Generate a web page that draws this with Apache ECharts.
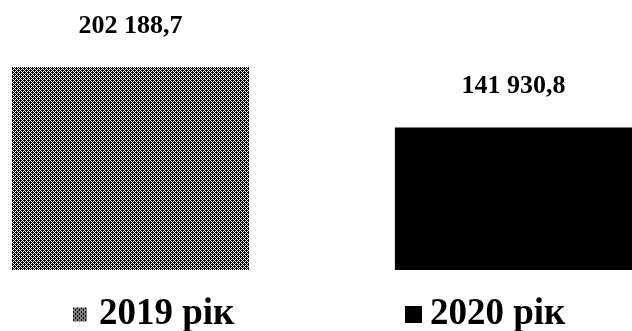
<!DOCTYPE html>
<html>
<head>
<meta charset="utf-8">
<script src="https://cdn.jsdelivr.net/npm/echarts@6/dist/echarts.min.js"></script>
<style>html,body{margin:0;padding:0;background:#fff}#c{width:632px;height:331px}</style>
</head>
<body>
<div id="c"></div>
<script>
var categories = ['2019 рік', '2020 рік'];
var values2019 = [202188.7, '-'];
var values2020 = ['-', 141930.8];

function makePattern() {
  var tile = [
    [1,1,0,1],
    [1,0,1,0],
    [0,1,1,1],
    [1,0,1,0]
  ];
  var c = document.createElement('canvas');
  c.width = 4; c.height = 4;
  var ctx = c.getContext('2d');
  ctx.fillStyle = '#fff'; ctx.fillRect(0,0,4,4);
  ctx.fillStyle = '#000';
  for (var y = 0; y < 4; y++) for (var x = 0; x < 4; x++) if (tile[y][x]) ctx.fillRect(x,y,1,1);
  return { image: c, repeat: 'repeat' };
}
var pattern = makePattern();

function fmt(p) {
  var v = p.value;
  var parts = v.toFixed(1).split('.');
  var ip = parts[0].replace(/\B(?=(\d{3})+(?!\d))/g, ' ');
  return ip + ',' + parts[1];
}

var font = '"Liberation Serif", "Times New Roman", serif';
var chart = echarts.init(document.getElementById('c'), null, {renderer: 'canvas'});
var labelCfg = {
  show: true, position: 'top', distance: 28,
  formatter: fmt, color: '#000', fontFamily: font, fontWeight: 'bold', fontSize: 26
};
chart.setOption({
  animation: false,
  grid: { left: 12, right: 0, top: 67, bottom: 61 },
  xAxis: { type: 'category', data: categories, show: false },
  yAxis: { type: 'value', min: 0, max: 202188.7, show: false },
  legend: [
    { data: ['2019 рік'], left: 73, top: 296, padding: 0, icon: 'rect', itemWidth: 14, itemHeight: 14,
      textStyle: { color: '#000', fontFamily: font, fontWeight: 'bold', fontSize: 37, padding: [0,0,0,7] } },
    { data: ['2020 рік'], left: 405, top: 296, padding: 0, icon: 'rect', itemWidth: 17, itemHeight: 17,
      textStyle: { color: '#000', fontFamily: font, fontWeight: 'bold', fontSize: 37, padding: [0,0,0,3] } }
  ],
  series: [
    { name: '2019 рік', type: 'bar', data: values2019, barWidth: 238, barGap: '-69%',
      itemStyle: { color: pattern }, label: labelCfg },
    { name: '2020 рік', type: 'bar', data: values2020, barWidth: 238,
      itemStyle: { color: '#000' }, label: labelCfg }
  ]
});
</script>
</body>
</html>
